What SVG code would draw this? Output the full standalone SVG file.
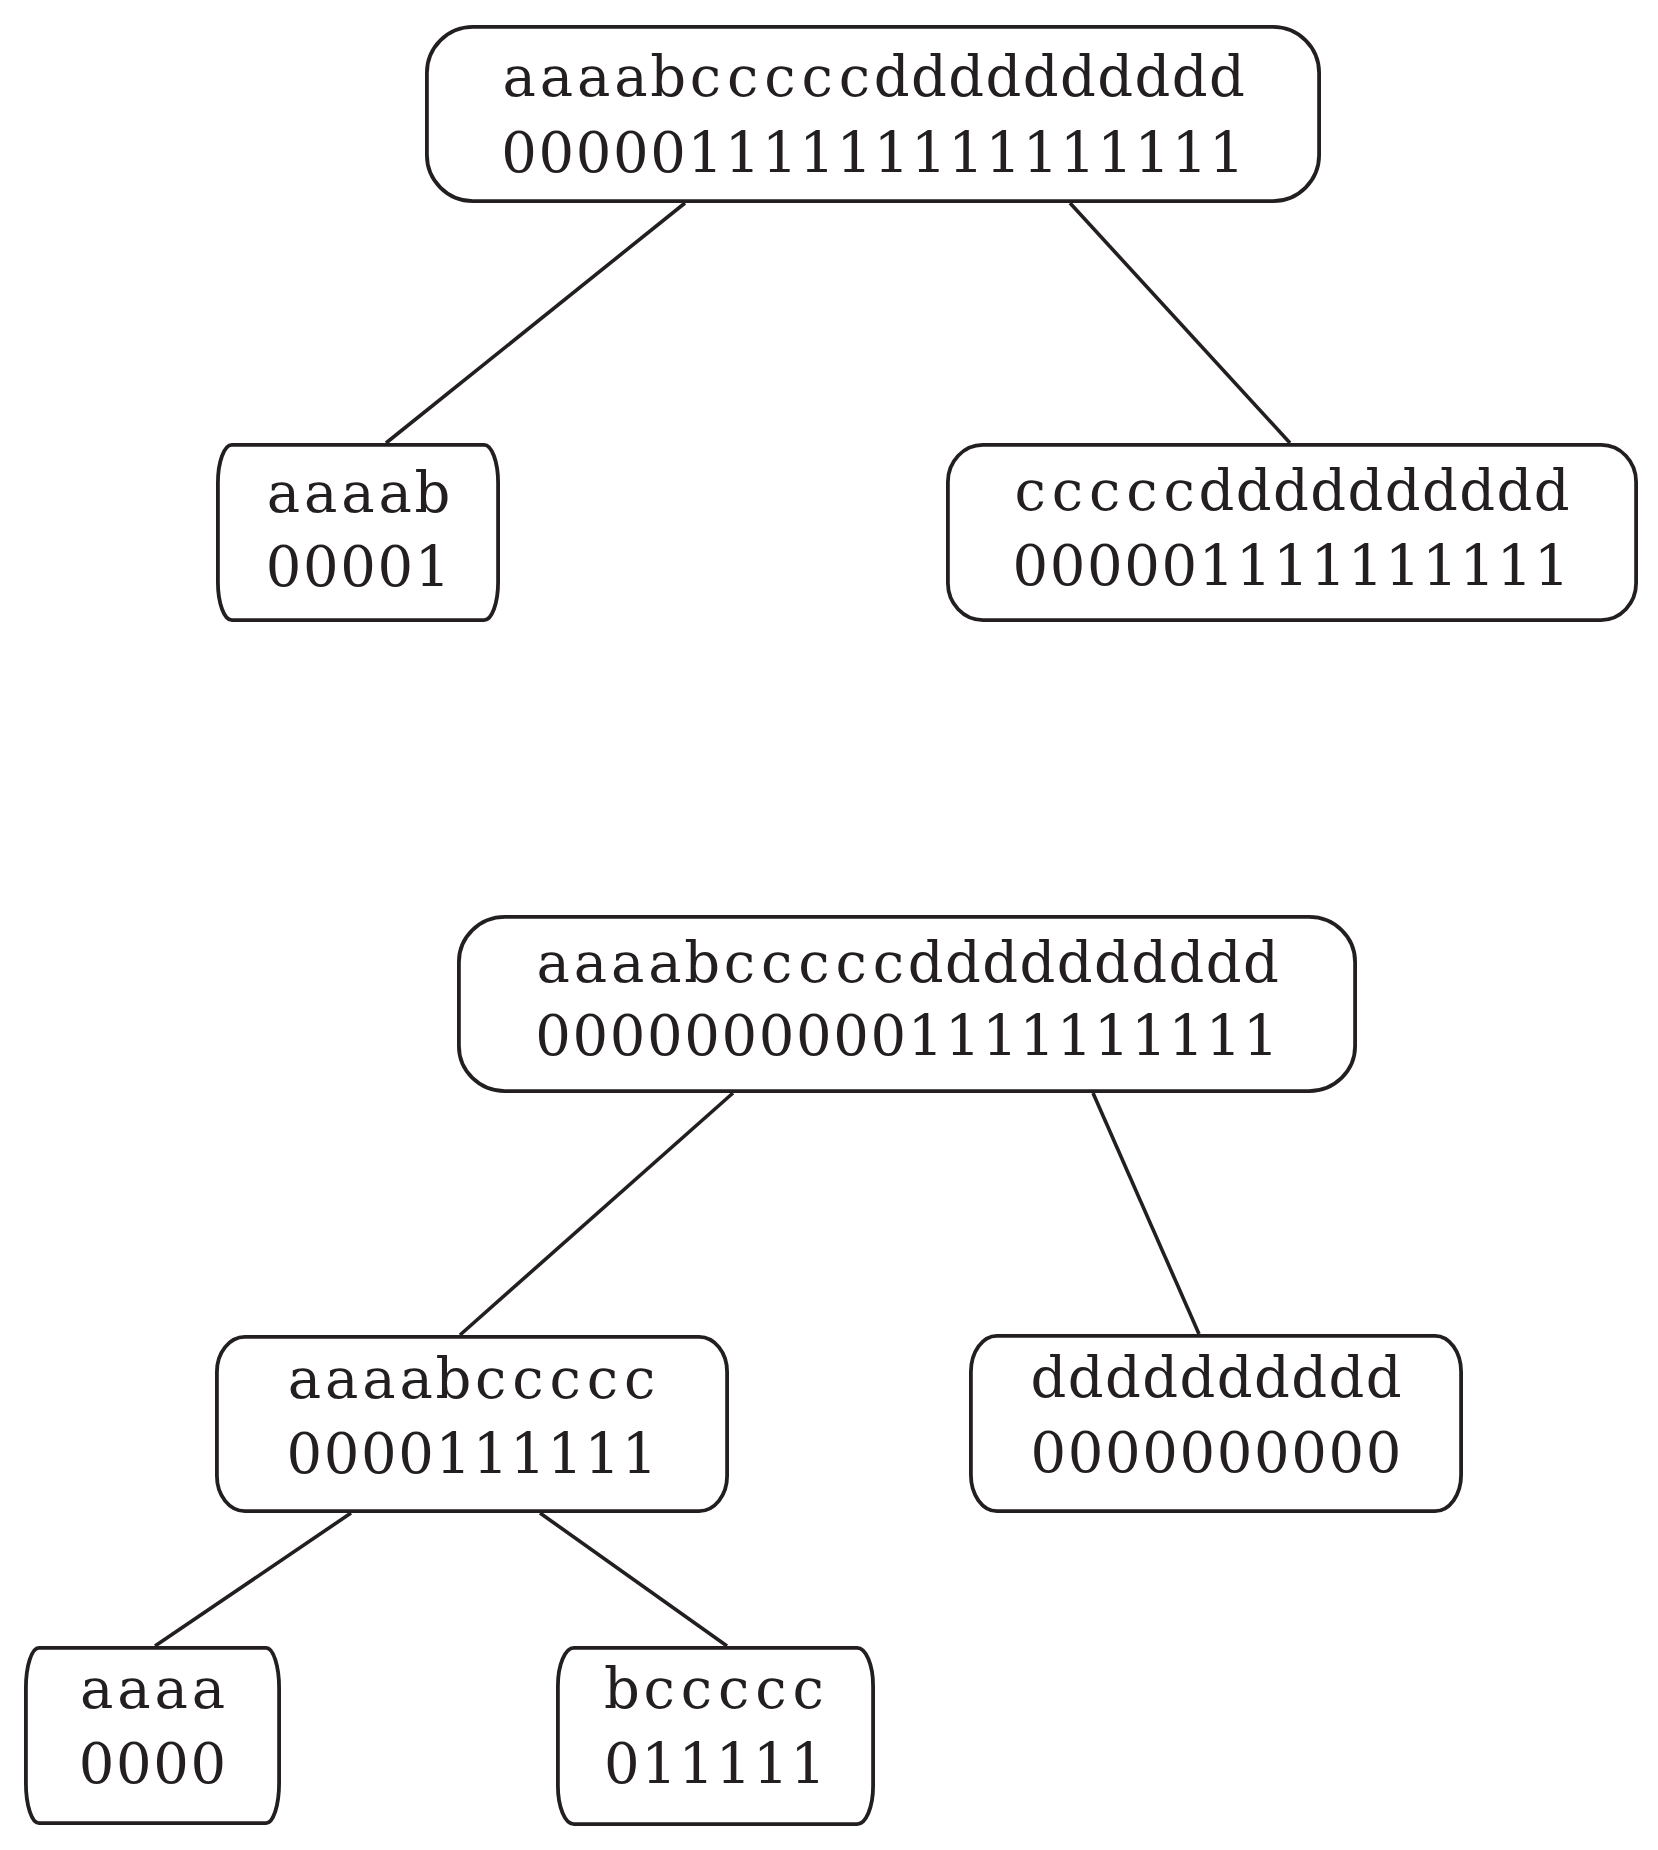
<svg xmlns="http://www.w3.org/2000/svg" width="1658" height="1850" viewBox="0 0 1658 1850">
<style>
.box{fill:#ffffff;stroke:#231f20;stroke-width:3.8}
.edge{stroke:#231f20;stroke-width:3.6;fill:none}
text{font-family:"DejaVu Serif","Liberation Serif",serif;font-size:56px;fill:#231f20;text-anchor:middle}
</style>
<rect width="1658" height="1850" fill="#ffffff"/>
<g id="connectors">
<line class="edge" x1="685" y1="203" x2="386" y2="443"/>
<line class="edge" x1="1070" y1="203" x2="1290" y2="443"/>
<line class="edge" x1="733" y1="1093" x2="460" y2="1335"/>
<line class="edge" x1="1093" y1="1093" x2="1199" y2="1334"/>
<line class="edge" x1="351" y1="1513" x2="155" y2="1646"/>
<line class="edge" x1="540" y1="1513" x2="727" y2="1646"/>
</g>
<g id="root1">
<rect class="box" x="426.9" y="26.9" width="892.2" height="174.2" rx="46" ry="46"/>
<text x="519.1 556.4 593.6 630.9 668.1 705.4 742.6 779.9 817.1 854.4 891.6 928.9 966.1 1003.4 1040.6 1077.9 1115.1 1152.4 1189.6 1226.9" y="96">aaaabcccccdddddddddd</text>
<text x="519.1 556.4 593.6 630.9 668.1 705.4 742.6 779.9 817.1 854.4 891.6 928.9 966.1 1003.4 1040.6 1077.9 1115.1 1152.4 1189.6 1226.9" y="172">00000111111111111111</text>
</g>
<g id="n_aaaab">
<rect class="box" x="217.9" y="444.9" width="280.2" height="175.2" rx="14" ry="38"/>
<text x="283.5 320.8 358 395.3 432.5" y="512">aaaab</text>
<text x="283.5 320.8 358 395.3 432.5" y="586">00001</text>
</g>
<g id="n_cccccdddddddddd">
<rect class="box" x="947.9" y="444.9" width="688.2" height="175.2" rx="35" ry="37"/>
<text x="1030.3 1067.5 1104.8 1142 1179.3 1216.5 1253.8 1291 1328.3 1365.5 1402.8 1440 1477.3 1514.5 1551.8" y="510">cccccdddddddddd</text>
<text x="1030.3 1067.5 1104.8 1142 1179.3 1216.5 1253.8 1291 1328.3 1365.5 1402.8 1440 1477.3 1514.5 1551.8" y="585">000001111111111</text>
</g>
<g id="root2">
<rect class="box" x="458.9" y="916.9" width="896.2" height="174.2" rx="46" ry="45"/>
<text x="553.1 590.4 627.6 664.9 702.1 739.4 776.6 813.9 851.1 888.4 925.6 962.9 1000.1 1037.4 1074.6 1111.9 1149.1 1186.4 1223.6 1260.9" y="982">aaaabcccccdddddddddd</text>
<text x="553.1 590.4 627.6 664.9 702.1 739.4 776.6 813.9 851.1 888.4 925.6 962.9 1000.1 1037.4 1074.6 1111.9 1149.1 1186.4 1223.6 1260.9" y="1055">00000000001111111111</text>
</g>
<g id="n_aaaabccccc">
<rect class="box" x="216.9" y="1336.9" width="510.2" height="174.2" rx="28" ry="35"/>
<text x="304.4 341.6 378.9 416.1 453.4 490.6 527.9 565.1 602.4 639.6" y="1398">aaaabccccc</text>
<text x="304.4 341.6 378.9 416.1 453.4 490.6 527.9 565.1 602.4 639.6" y="1473">0000111111</text>
</g>
<g id="n_dddddddddd">
<rect class="box" x="970.9" y="1335.9" width="490.2" height="175.2" rx="26" ry="36"/>
<text x="1048.4 1085.6 1122.9 1160.1 1197.4 1234.6 1271.9 1309.1 1346.4 1383.6" y="1397">dddddddddd</text>
<text x="1048.4 1085.6 1122.9 1160.1 1197.4 1234.6 1271.9 1309.1 1346.4 1383.6" y="1472">0000000000</text>
</g>
<g id="n_aaaa">
<rect class="box" x="25.9" y="1647.9" width="253.2" height="175.2" rx="13" ry="40"/>
<text x="96.6 133.9 171.1 208.4" y="1708">aaaa</text>
<text x="96.6 133.9 171.1 208.4" y="1783">0000</text>
</g>
<g id="n_bccccc">
<rect class="box" x="557.9" y="1647.9" width="315.2" height="176.2" rx="16" ry="38"/>
<text x="621.9 659.1 696.4 733.6 770.9 808.1" y="1708">bccccc</text>
<text x="621.9 659.1 696.4 733.6 770.9 808.1" y="1783">011111</text>
</g>
</svg>
